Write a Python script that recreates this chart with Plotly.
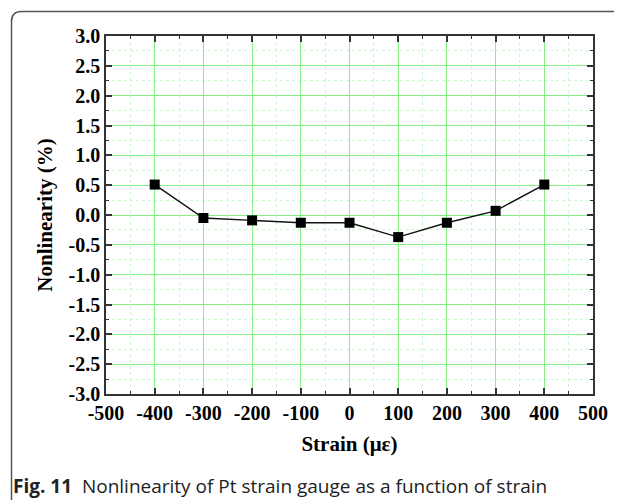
import plotly.graph_objects as go

# ---- data ----
strain = [-400, -300, -200, -100, 0, 100, 200, 300, 400]
nonlinearity = [0.51, -0.05, -0.09, -0.13, -0.13, -0.37, -0.13, 0.07, 0.51]

x_tickvals = [-500, -400, -300, -200, -100, 0, 100, 200, 300, 400, 500]
x_ticktext = ["-500", "-400", "-300", "-200", "-100", "0", "100", "200", "300", "400", "500"]
y_tickvals = [-3.0, -2.5, -2.0, -1.5, -1.0, -0.5, 0.0, 0.5, 1.0, 1.5, 2.0, 2.5, 3.0]
y_ticktext = ["-3.0", "-2.5", "-2.0", "-1.5", "-1.0", "-0.5", "0.0", "0.5", "1.0", "1.5", "2.0", "2.5", "3.0"]

x_title = "Strain (\u03bc\u03b5)"
y_title = "Nonlinearity (%)"
caption_bold = "Fig. 11"
caption_text = "Nonlinearity of Pt strain gauge as a function of strain"

# minor ticks halfway between majors
x_minor = [(a + b) / 2 for a, b in zip(x_tickvals[:-1], x_tickvals[1:])]
y_minor = [(a + b) / 2 for a, b in zip(y_tickvals[:-1], y_tickvals[1:])]

# ---- layout geometry ----
OFF = 8  # page body margin offset
W, H = 622 - OFF, 500 - OFF
PL, PR, PT, PB = 106, 593, 36, 394
L = PL - OFF
T = PT - OFF
R = W - (PR - OFF)
B = H - (PB - OFF)
pw = W - L - R
ph = H - T - B

def px2x(px):
    return (px - OFF - L) / pw

def py2y(py):
    return (H - B - (py - OFF)) / ph

serif = "Liberation Serif, Times New Roman, serif"
major_grid = "#86f086"
minor_grid = "#cff6cf"

fig = go.Figure()
fig.add_trace(go.Scatter(
    x=strain, y=nonlinearity, mode="lines+markers",
    line=dict(color="#111111", width=1.4),
    marker=dict(symbol="square", size=10, color="black"),
    showlegend=False, cliponaxis=False,
))

axis_common = dict(
    showline=True, linecolor="#333333", linewidth=1.5, mirror="ticks",
    ticks="inside", ticklen=6, tickwidth=1.5, tickcolor="#333333",
    showgrid=True, gridcolor=major_grid, gridwidth=1,
    zeroline=False,
    tickfont=dict(family=serif, size=20, color="black", weight="bold"),
)

minor_common = dict(ticks="inside", ticklen=3, tickwidth=1.2,
                    tickcolor="#333333", showgrid=True, gridcolor=minor_grid,
                    griddash="dot", gridwidth=1)

fig.update_xaxes(
    range=[-500, 500], tickvals=x_tickvals, ticktext=x_ticktext,
    minor=dict(tickmode="array", tickvals=x_minor, **minor_common),
    title=dict(text="<b>" + x_title + "</b>", font=dict(family=serif, size=21, color="black"),
               standoff=14),
    **axis_common,
)
fig.update_yaxes(
    range=[-3.0, 3.0], tickvals=y_tickvals, ticktext=y_ticktext,
    minor=dict(tickmode="array", tickvals=y_minor, **minor_common),
    title=dict(text="<b>" + y_title + "</b>", font=dict(family=serif, size=21, color="black"),
               standoff=10),
    **axis_common,
)

# rounded outer frame (open on the right, extends below)
x0 = px2x(11.5)
x1 = px2x(640)
y0 = py2y(11.5)
y1 = py2y(512)
rx = 10 / pw
ry = 10 / ph
path = (f"M {x1},{y0} L {x0+rx},{y0} Q {x0},{y0} {x0},{y0-ry} "
        f"L {x0},{y1+ry} Q {x0},{y1} {x0+rx},{y1}")
fig.add_shape(type="path", path=path, xref="paper", yref="paper",
              line=dict(color="#555555", width=1.5), layer="above")

fig.add_annotation(
    x=px2x(11), y=py2y(486), xref="paper", yref="paper",
    xanchor="left", yanchor="middle", showarrow=False,
    text="<b>" + caption_bold + "</b>  " + caption_text,
    font=dict(family="Open Sans, Noto Sans, sans-serif", size=19, color="#222222"),
)

fig.update_layout(
    width=W, height=H,
    margin=dict(l=L, r=R, t=T, b=B, autoexpand=False),
    plot_bgcolor="white", paper_bgcolor="white",
)

fig.write_html("out.html")
